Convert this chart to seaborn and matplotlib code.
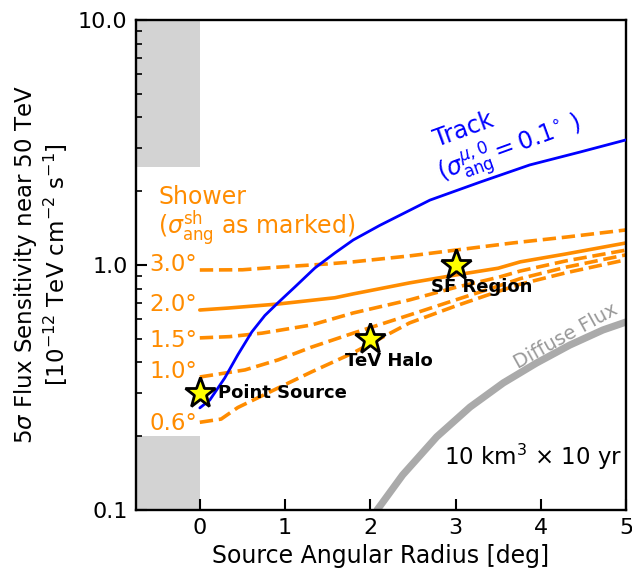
import numpy as np
import pandas as pd
import matplotlib
matplotlib.use("Agg")
import matplotlib.pyplot as plt
import seaborn as sns

# ---------------- data ----------------
track_x = [0, 0.117, 0.293, 0.446, 0.61, 0.763, 0.915, 1.115, 1.35, 1.585, 1.80, 2.11, 2.70, 3.29, 3.87, 4.46, 5.0]
track_y = [0.261, 0.281, 0.346, 0.43, 0.533, 0.622, 0.70, 0.813, 0.972, 1.12, 1.265, 1.45, 1.84, 2.18, 2.56, 2.89, 3.24]

sh30_x = [0, 0.5, 0.92, 1.5, 1.8, 2.46, 3.0, 3.67, 4.3, 5.0]
sh30_y = [0.954, 0.956, 0.98, 1.01, 1.03, 1.089, 1.15, 1.23, 1.30, 1.39]
sh20_x = [0, 0.33, 0.92, 1.585, 1.8, 2.46, 3.0, 3.5, 3.76, 4.3, 5.0]
sh20_y = [0.655, 0.667, 0.693, 0.735, 0.762, 0.845, 0.91, 0.97, 1.03, 1.11, 1.23]
sh15_x = [0, 0.35, 0.73, 1.31, 1.8, 2.46, 3.0, 3.5, 3.76, 4.3, 5.0]
sh15_y = [0.504, 0.510, 0.527, 0.569, 0.637, 0.72, 0.81, 0.89, 0.945, 1.04, 1.15]
sh10_x = [0, 0.53, 0.92, 1.31, 1.8, 2.46, 3.0, 3.5, 3.76, 4.3, 5.0]
sh10_y = [0.349, 0.373, 0.41, 0.462, 0.527, 0.625, 0.72, 0.82, 0.88, 0.98, 1.10]
sh06_x = [0, 0.25, 0.446, 0.92, 1.31, 1.8, 2.46, 3.0, 3.5, 3.76, 4.3, 5.0]
sh06_y = [0.228, 0.235, 0.262, 0.315, 0.366, 0.438, 0.58, 0.68, 0.78, 0.835, 0.93, 1.05]

shower_labels = ["3.0°", "2.0°", "1.5°", "1.0°", "0.6°"]
shower_label_y = [1.0, 0.693, 0.494, 0.366, 0.226]

diffuse_x = [2.08, 2.38, 2.78, 3.17, 3.56, 3.95, 4.34, 4.73, 5.0]
diffuse_y = [0.1, 0.139, 0.199, 0.263, 0.33, 0.398, 0.471, 0.543, 0.585]

src_names = ["Point Source", "TeV Halo", "SF Region"]
src_x = [0, 2, 3]
src_y = [0.3, 0.5, 1.0]

shade_x = [-0.75, 0]
shade_top = [2.5, 10]
shade_bottom = [0.1, 0.2]

xticks = [0, 1, 2, 3, 4, 5]
yticks = [0.1, 1.0, 10.0]
ytick_labels = ["0.1", "1.0", "10.0"]

# ---------------- plot ----------------
sns.set_style("ticks")
plt.rcParams["font.family"] = ["DejaVu Sans"]
plt.rcParams["mathtext.fontset"] = "dejavusans"
plt.rcParams["text.color"] = "black"
plt.rcParams["axes.labelcolor"] = "black"
plt.rcParams["xtick.color"] = "black"
plt.rcParams["ytick.color"] = "black"
plt.rcParams["axes.edgecolor"] = "black"

fig = plt.figure(figsize=(6.32, 5.69), dpi=100)
ax = fig.add_axes([0.215, 0.1037, 0.7755, 0.8612])

ax.fill_between(shade_x, shade_top[0], shade_top[1], color="#d3d3d3", lw=0, zorder=0)
ax.fill_between(shade_x, shade_bottom[0], shade_bottom[1], color="#d3d3d3", lw=0, zorder=0)

orange = "#ff8c00"
sns.lineplot(x=diffuse_x, y=diffuse_y, ax=ax, color="#aaaaaa", lw=5.2, zorder=1)
sns.lineplot(x=track_x, y=track_y, ax=ax, color="#0000ff", lw=2, zorder=3)
sns.lineplot(x=sh30_x, y=sh30_y, ax=ax, color=orange, lw=2.6, linestyle="--", zorder=2)
sns.lineplot(x=sh20_x, y=sh20_y, ax=ax, color=orange, lw=2.6, linestyle="-", zorder=2)
sns.lineplot(x=sh15_x, y=sh15_y, ax=ax, color=orange, lw=2.6, linestyle="--", zorder=2)
sns.lineplot(x=sh10_x, y=sh10_y, ax=ax, color=orange, lw=2.6, linestyle="--", zorder=2)
sns.lineplot(x=sh06_x, y=sh06_y, ax=ax, color=orange, lw=2.6, linestyle="--", zorder=2)

ax.plot(src_x, src_y, linestyle="none", marker="*", ms=23, mfc="yellow", mec="black", mew=2, zorder=5)

ax.set_yscale("log")
ax.set_xlim(-0.75, 5)
ax.set_ylim(0.1, 10)
ax.set_xticks(xticks)
ax.set_yticks(yticks)
ax.set_yticklabels(ytick_labels)
ax.tick_params(axis="both", which="major", direction="in", length=8, width=1.5, labelsize=16,
               pad=6, left=True, bottom=True, top=False, right=False)
ax.tick_params(axis="y", which="minor", direction="in", length=4, width=1.2, left=True, right=False)
ax.tick_params(axis="x", which="minor", bottom=False, top=False)
for s in ax.spines.values():
    s.set_linewidth(1.7)
    s.set_color("black")
    s.set_visible(True)

ax.set_xlabel("Source Angular Radius [deg]", fontsize=17, labelpad=4)
ax.set_ylabel("5$\\sigma$ Flux Sensitivity near 50 TeV\n[10$^{-12}$ TeV cm$^{-2}$ s$^{-1}$]", fontsize=16.5,
              labelpad=6, linespacing=1.1)

# shower labels
for lab, yy in zip(shower_labels, shower_label_y):
    ax.text(-0.03, yy, lab, color=orange, fontsize=16.5, ha="right", va="center")
ax.text(-0.49, 1.90, "Shower", color=orange, fontsize=17, ha="left", va="center")
ax.text(-0.49, 1.42, "($\\sigma_{\\rm ang}^{\\rm sh}$ as marked)", color=orange, fontsize=17, ha="left", va="center")

# track labels
ax.text(3.09, 3.56, "Track", color="#0000ff", fontsize=17, ha="center", va="center", rotation=20,
        rotation_mode="anchor")
ax.text(3.64, 2.95, "($\\sigma_{\\rm ang}^{\\mu,0} = 0.1^{\\circ}$ )", color="#0000ff", fontsize=17,
        ha="center", va="center", rotation=20, rotation_mode="anchor")

# source labels
ax.text(0.21, 0.3, src_names[0], fontsize=13, fontweight="bold", ha="left", va="center", zorder=6)
ax.text(2.22, 0.405, src_names[1], fontsize=13, fontweight="bold", ha="center", va="center", zorder=6)
ax.text(3.31, 0.815, src_names[2], fontsize=13, fontweight="bold", ha="center", va="center", zorder=6)

ax.text(3.73, 0.378, "Diffuse Flux", color="#999999", fontsize=14, ha="left", va="baseline", rotation=29,
        rotation_mode="anchor")
ax.text(4.95, 0.164, "10 km$^3$ $\\times$ 10 yr", fontsize=16.5, ha="right", va="center")

fig.savefig("out.png", dpi=100)
